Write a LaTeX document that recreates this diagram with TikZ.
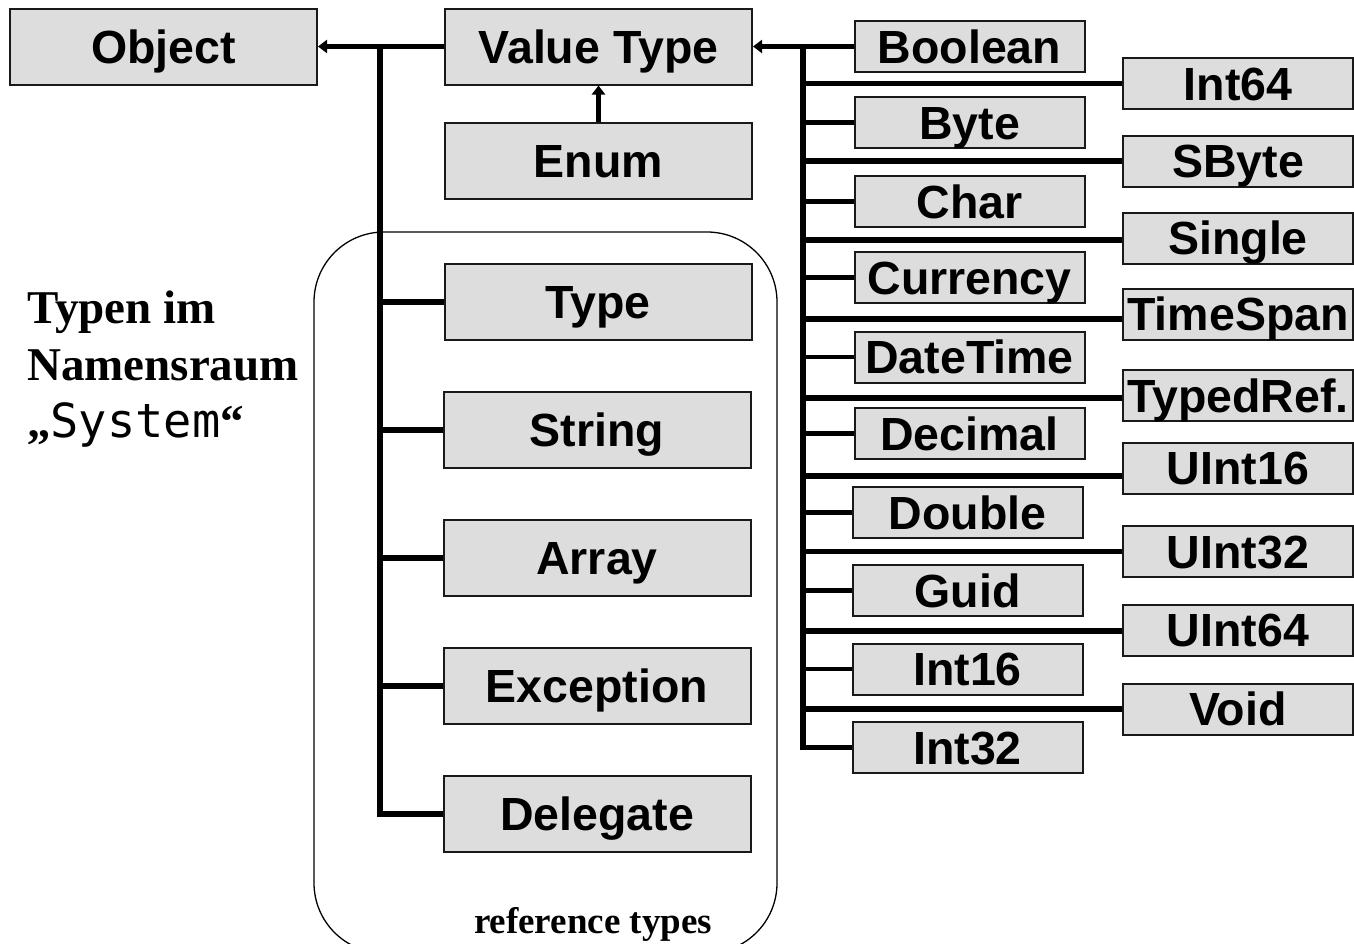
\documentclass[tikz,border=0pt]{standalone}
\usepackage{fontspec}
\setmainfont{Liberation Serif}
\newfontfamily\boxfont{Liberation Sans}
\newfontfamily\sysmono{DejaVu Sans Mono}
\usetikzlibrary{arrows.meta}
\definecolor{boxfill}{RGB}{221,221,221}
\definecolor{boxline}{RGB}{25,25,25}

\begin{document}
\begin{tikzpicture}[x=1pt,y=-1pt,
  typebox/.style={draw=boxline, line width=2pt, fill=boxfill, inner sep=0pt,
    font=\boxfont\bfseries\fontsize{46.5}{50}\selectfont,
    text height=33.3pt, text depth=0pt},
  bigbox/.style={typebox, minimum width=307pt, minimum height=76pt},
  smallbox/.style={typebox, minimum width=230pt, minimum height=51pt},
  conn/.style={line width=5.5pt, line join=miter},
  twig/.style={line width=4.5pt},
  inherit/.style={conn, -{Triangle[length=9pt,width=13pt]}},
  sidetext/.style={font=\bfseries\fontsize{47}{57}\selectfont, inner sep=0pt, anchor=base west},
]
\useasboundingbox (0,0) rectangle (1354,943);
\clip (0,0) rectangle (1354,943);

% frame around the reference types
\node[draw, line width=1.3pt, rounded corners=70pt, minimum width=463pt,
      minimum height=721pt, inner sep=0pt] (refframe) at (545.5,592.5) {};
\node[font=\bfseries\fontsize{37}{40}\selectfont, anchor=base, inner sep=0pt]
      (reflabel) at (593,933) {reference types};

% caption on the left
\node[sidetext] (t1) at (27,323) {Typen im};
\node[sidetext] (t2) at (27,380) {Namensraum};
\node[sidetext] (t3) at (27,437) {„{\sysmono\mdseries\fontsize{47}{50}\selectfont System}“};

% main hierarchy
\node[bigbox] (obj) at (163.5,46.5) {Object};
\node[bigbox] (vt) at (598.5,46.5) {Value Type};
\node[bigbox] (enum) at (598.5,161) {Enum};
\node[bigbox] (type) at (598,302) {Type};
\node[bigbox] (string) at (597,430) {String};
\node[bigbox] (array) at (597,558) {Array};
\node[bigbox] (exception) at (597,686) {Exception};
\node[bigbox] (delegate) at (597,814) {Delegate};

% value types, inner column
\node[smallbox] (bool) at (969.5,46.5) {Boolean};
\node[smallbox] (byte) at (969.5,122.5) {Byte};
\node[smallbox] (char) at (969.5,201.5) {Char};
\node[smallbox] (currency) at (969.5,277.5) {Currency};
\node[smallbox] (datetime) at (969.5,357) {DateTime};
\node[smallbox] (decimal) at (969.5,433.5) {Decimal};
\node[smallbox] (double) at (967.5,512.5) {Double};
\node[smallbox] (guid) at (967.5,590.5) {Guid};
\node[smallbox] (int16) at (967.5,669) {Int16};
\node[smallbox] (int32) at (967.5,747.5) {Int32};

% value types, outer column
\node[smallbox] (int64) at (1238,83.5) {Int64};
\node[smallbox] (sbyte) at (1238,161) {SByte};
\node[smallbox] (single) at (1238,238) {Single};
\node[smallbox] (timespan) at (1238,314) {TimeSpan};
\node[smallbox] (typedref) at (1238,395.5) {TypedRef.};
\node[smallbox] (uint16) at (1238,468) {UInt16};
\node[smallbox] (uint32) at (1238,551.5) {UInt32};
\node[smallbox] (uint64) at (1238,630) {UInt64};
\node[smallbox] (void) at (1238,709) {Void};

% trunks
\coordinate (lt) at (380,46.5);
\coordinate (rt) at (803,46.5);

% reference side
\draw[inherit] (vt.west) -- (obj.east);
\draw[conn] (lt) |- (delegate.west);
\foreach \n in {type,string,array,exception}
  \draw[conn] (\n.west -| lt) -- (\n.west);
\draw[inherit, line width=5pt] (enum.north) -- (vt.south);

% value side
\draw[inherit] (bool.west) -- (vt.east);
\draw[conn] (rt) |- (int32.west);
\foreach \n in {byte,char,currency,datetime,decimal,double,guid,int16}
  \draw[twig] (\n.west -| rt) -- (\n.west);
\foreach \n/\s in {int64/0,sbyte/0,single/-2,timespan/-5,typedref/-2.5,uint16/-8,uint32/0,uint64/-1,void/0}{
  \coordinate (\n w) at ([yshift=\s pt]\n.west);
  \draw[conn] (\n w -| rt) -- (\n w);
}
\end{tikzpicture}
\end{document}
